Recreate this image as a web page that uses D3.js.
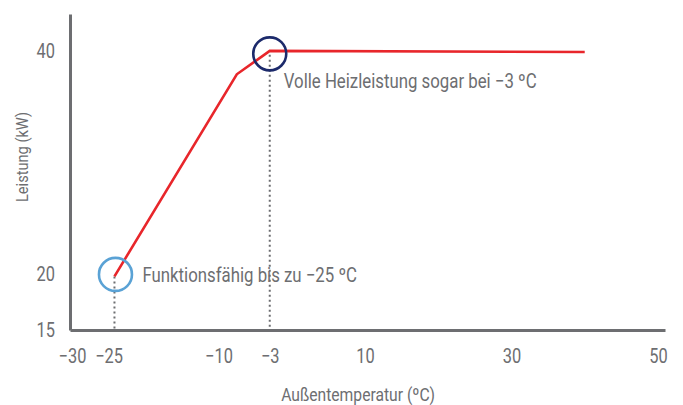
<!DOCTYPE html>
<html><head><meta charset="utf-8">
<script src="https://cdn.jsdelivr.net/npm/d3@7"></script>
<style>
body{margin:0;background:#fff;}
svg{display:block;}
text{font-family:"Roboto","Liberation Sans",sans-serif;fill:#6d6e71;}
</style></head>
<body><svg id="c" width="683" height="405"></svg>
<script>
// Data
const xTicks = [-30, -25, -10, -3, 10, 30, 50];
const xTickLabels = ["\u221230", "\u221225", "\u221210", "\u22123", "10", "30", "50"];
const yTicks = [15, 20, 40];
const tempC = [-24.2, -7.5, -3, 40];
const powerKW = [19.8, 37.9, 40, 39.9];
const markTemps = [-24.2, -3];
const markPowers = [19.8, 40];
const markLabels = ["Funktionsf\u00e4hig bis zu \u221225 \u00baC", "Volle Heizleistung sogar bei \u22123 \u00baC"];
const markColors = ["#5aa2d5", "#1c2a6b"];
const xTitle = "Au\u00dfentemperatur (\u00baC)";
const yTitle = "Leistung (kW)";

const svg = d3.select("#c");
const x = d3.scaleLinear().domain([-30.27, 50.96]).range([70, 665]);
const y = d3.scaleLinear().domain([15, 43.3]).range([330, 14]);
const gray = "#6d6e71";

// Condense text horizontally (reference uses a condensed face)
function condense(sel, k) {
  sel.each(function () {
    const len = this.getComputedTextLength();
    d3.select(this).attr("textLength", len * k).attr("lengthAdjust", "spacingAndGlyphs");
  });
}

// Dotted guide lines
svg.selectAll("line.guide").data(markTemps).enter().append("line")
  .attr("x1", d => x(d)).attr("x2", d => x(d))
  .attr("y1", (d, i) => y(markPowers[i]) + (i === 1 ? 4 : 0)).attr("y2", y(15))
  .attr("stroke", gray).attr("stroke-width", 2).attr("stroke-dasharray", "2,3");

// X axis
const xAxis = d3.axisBottom(x).tickValues(xTicks).tickSize(0).tickFormat((d, i) => xTickLabels[i]);
const gx = svg.append("g").attr("transform", `translate(0,${y(15)})`).call(xAxis);
gx.select(".domain").attr("stroke", gray).attr("stroke-width", 3);
gx.selectAll("text").attr("y", 19).style("font-size", "20px").attr("fill", gray).call(condense, 0.82);

// Y axis
const yAxis = d3.axisLeft(y).tickValues(yTicks).tickSize(0).tickPadding(15);
const gy = svg.append("g").attr("transform", `translate(${x.range()[0]},0)`).call(yAxis);
gy.select(".domain").attr("stroke", gray).attr("stroke-width", 3);
gy.selectAll("text").style("font-size", "20px").attr("fill", gray).call(condense, 0.82);

// Line
const line = d3.line().x(d => x(d[0])).y(d => y(d[1]));
svg.append("path").datum(tempC.map((t, i) => [t, powerKW[i]]))
  .attr("d", line).attr("fill", "none").attr("stroke", "#e8262b").attr("stroke-width", 2.6)
  .attr("stroke-linejoin", "miter");

// Circles
svg.selectAll("circle.mark").data(markTemps).enter().append("circle")
  .attr("cx", (d, i) => x(d) + (i === 0 ? 1 : 0)).attr("cy", (d, i) => y(markPowers[i]) + (i === 0 ? -2 : 3))
  .attr("r", 16.5).attr("fill", "none")
  .attr("stroke", (d, i) => markColors[i]).attr("stroke-width", 2.6);

// Annotation labels
svg.selectAll("text.ann").data(markTemps).enter().append("text")
  .attr("x", (d, i) => x(d) + (i === 0 ? 28 : 14))
  .attr("y", (d, i) => y(markPowers[i]) + (i === 0 ? 6 : 37))
  .style("font-size", "20px").attr("fill", gray)
  .text((d, i) => markLabels[i]).call(condense, 0.84);

// Axis titles
svg.append("text").attr("x", 358).attr("y", 401).attr("text-anchor", "middle")
  .style("font-size", "18px").text(xTitle).call(condense, 0.87);
svg.append("text").attr("transform", "translate(28,157) rotate(-90)").attr("text-anchor", "middle")
  .style("font-size", "17px").text(yTitle).call(condense, 0.86);
</script></body></html>
